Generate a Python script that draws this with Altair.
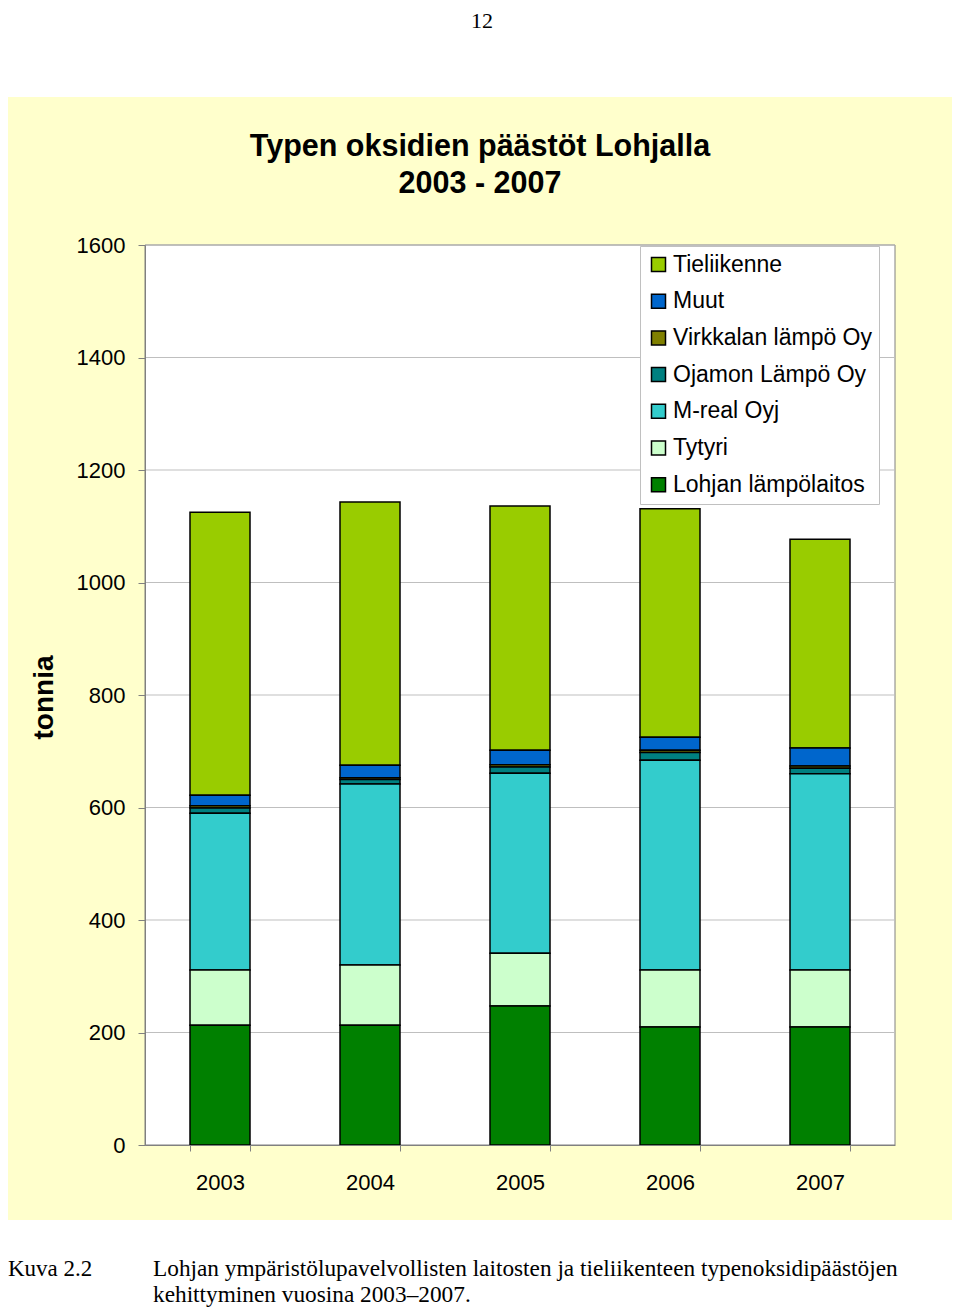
import altair as alt
import pandas as pd

years = ["2003", "2004", "2005", "2006", "2007"]
series = ["Tieliikenne", "Muut", "Virkkalan lämpö Oy", "Ojamon Lämpö Oy",
          "M-real Oyj", "Tytyri", "Lohjan lämpölaitos"]
colors = ["#99CC00", "#0066CC", "#808000", "#008080", "#33CCCC", "#CCFFCC", "#008000"]

lohjan = [213, 213, 247, 210, 210]
tytyri = [98, 107, 94, 101, 101]
mreal = [279, 322, 320, 373, 349]
ojamon = [9, 8, 11, 14, 10]
virkkala = [4, 3, 4, 4, 4]
muut = [19, 22, 26, 23, 32]
tieliikenne = [503, 468, 434, 406, 371]

y_ticks = [0, 200, 400, 600, 800, 1000, 1200, 1400, 1600]
grid_values = [200, 400, 600, 800, 1000, 1200, 1400, 1600]

page_number = "12"
title_lines = ["Typen oksidien päästöt Lohjalla", "2003 - 2007"]
caption_label = "Kuva 2.2"
caption_lines = ["Lohjan ympäristölupavelvollisten laitosten ja tieliikenteen typenoksidipäästöjen",
                 "kehittyminen vuosina 2003\u20132007."]

values_by_series = {
    "Tieliikenne": tieliikenne,
    "Muut": muut,
    "Virkkalan lämpö Oy": virkkala,
    "Ojamon Lämpö Oy": ojamon,
    "M-real Oyj": mreal,
    "Tytyri": tytyri,
    "Lohjan lämpölaitos": lohjan,
}
rows = []
for s in series:
    for i, y in enumerate(years):
        rows.append({"year": y, "series": s, "value": values_by_series[s][i],
                     "stack": len(series) - 1 - series.index(s)})
df = pd.DataFrame(rows)

one = pd.DataFrame({"_": [0]})
W, H = 750, 900

y_scale = alt.Scale(domain=[0, 1600], nice=False)
y_axis = alt.Axis(values=y_ticks, format="d", grid=False, tickSize=7, tickColor="#808080",
                  domainColor="#808080", labelFont="Liberation Sans",
                  labelFontSize=22, labelColor="black", labelPadding=13,
                  title="tonnia", titleFont="Liberation Sans", titleFontSize=28,
                  titleFontWeight="bold", titleColor="black", titleAngle=-90,
                  titleX=-101, titleY=452, titleAlign="center",
                  titleBaseline="middle", zindex=1)

bg = alt.Chart(one).mark_rect(fill="#FFFFCC").encode(
    x=alt.value(-137), x2=alt.value(808), y=alt.value(-148), y2=alt.value(975))
plotbg = alt.Chart(one).mark_rect(fill="white", stroke="#808080", strokeWidth=1).encode(
    x=alt.value(0), x2=alt.value(W), y=alt.value(0), y2=alt.value(H))
grid = alt.Chart(pd.DataFrame({"g": grid_values})).mark_rule(
    color="#BFBFBF", strokeWidth=1).encode(
    y=alt.Y("g:Q", scale=y_scale, axis=y_axis))

bars = alt.Chart(df).mark_bar(stroke="black", strokeWidth=1.5).encode(
    x=alt.X("year:N", sort=years,
            scale=alt.Scale(paddingInner=0.6, paddingOuter=0.3),
            axis=alt.Axis(title=None, tickBand="extent", tickSize=6, tickColor="#808080",
                          domainColor="#808080", labelAngle=0, labelFont="Liberation Sans",
                          labelFontSize=22, labelColor="black", labelPadding=21, zindex=1)),
    y=alt.Y("value:Q", stack="zero", scale=y_scale, axis=y_axis),
    color=alt.Color("series:N", scale=alt.Scale(domain=series, range=colors),
                    legend=alt.Legend(orient="none", legendX=495, legendY=1, title=None,
                                      fillColor="white", strokeColor="#C0C0C0",
                                      padding=7, rowPadding=12.7, symbolType="square",
                                      symbolSize=196, symbolStrokeColor="black",
                                      symbolStrokeWidth=1.5, labelFont="Liberation Sans",
                                      labelFontSize=23, labelColor="black", labelOffset=3,
                                      labelLimit=400, cornerRadius=0)),
    order=alt.Order("stack:Q", sort="ascending"),
)


def txt(s, x, y, size, font, weight="normal", align="center"):
    return alt.Chart(one).mark_text(
        text=s, font=font, fontSize=size, fontWeight=weight, align=align,
        baseline="alphabetic", color="black").encode(x=alt.value(x), y=alt.value(y))


texts = [
    txt(page_number, 337, -217, 22, "Liberation Serif"),
    txt(title_lines[0], 335, -89, 30.5, "Liberation Sans", "bold"),
    txt(title_lines[1], 335, -52, 30.5, "Liberation Sans", "bold"),
    txt(caption_label, -137, 1031, 23, "Liberation Serif", align="left"),
    txt(caption_lines[0], 8, 1031, 23.3, "Liberation Serif", align="left"),
    txt(caption_lines[1], 8, 1057, 23.3, "Liberation Serif", align="left"),
]

chart = alt.layer(bg, plotbg, grid, bars, *texts).properties(
    width=W, height=H,
    autosize=alt.AutoSizeParams(type="none"),
    padding={"left": 137, "top": 237, "right": 57, "bottom": 162},
).configure(background="white").configure_view(stroke=None)

chart.save("out.html", embed_options={"renderer": "svg", "actions": False})
